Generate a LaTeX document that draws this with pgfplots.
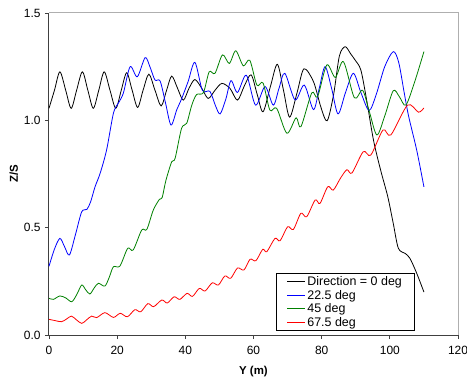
\documentclass[border=0pt]{standalone}
\usepackage{fontspec}
\setmainfont{Liberation Sans}
\usepackage{pgfplots}
\pgfplotsset{compat=1.18}
\definecolor{xlgreen}{RGB}{0,128,0}
\definecolor{xlblue}{RGB}{0,0,255}
\definecolor{framegray}{RGB}{175,175,175}
\begin{document}
\begin{tikzpicture}
\begin{axis}[
  scale only axis,
  width=409bp, height=322bp,
  xmin=0, xmax=120, ymin=0, ymax=1.5,
  axis lines*=left,
  axis line style={-, draw=black!75, line width=1bp},
  xtick={0,20,...,120},
  ytick={0,0.5,1,1.5},
  tick align=outside,
  major tick length=4bp,
  tick style={black!75, line width=0.8bp},
  /pgf/number format/assume math mode=true,
  yticklabel style={/pgf/number format/fixed, /pgf/number format/fixed zerofill, /pgf/number format/precision=1, font=\fontsize{12}{14}\selectfont, xshift=-1bp},
  xticklabel style={font=\fontsize{12}{14}\selectfont, yshift=-4bp},
  xlabel={\bfseries Y (m)},
  ylabel={\bfseries Z/S},
  xlabel style={font=\fontsize{11.5}{13}\selectfont, yshift=-4bp},
  ylabel style={font=\fontsize{11.5}{13}\selectfont, yshift=-1bp},
  legend cell align=left,
  legend style={at={(0.554,0.1916)}, anchor=north west, draw=black, line width=0.6bp,
    font=\fontsize{12.5}{14}\selectfont, row sep=0bp, inner xsep=11bp, inner ysep=1.5bp,
    nodes={inner sep=1.5bp}},
  clip=false,
]
\addlegendimage{draw=black, line width=1bp}
\addlegendentry{Direction = 0 deg}
\addlegendimage{draw=xlblue, line width=1bp}
\addlegendentry{22.5 deg}
\addlegendimage{draw=xlgreen, line width=1bp}
\addlegendentry{45 deg}
\addlegendimage{draw=red, line width=1bp}
\addlegendentry{67.5 deg}
\pgfplotsset{legend image code/.code={\draw[#1] (0bp,0bp) -- (18bp,0bp);}}
\addplot[black, line width=0.8bp, smooth, forget plot] coordinates {
(0,1.056) (1.6,1.14) (3.2,1.226) (4.9,1.14) (6.5,1.056) (8.1,1.14) (9.8,1.226)
(11.4,1.14) (13.0,1.056) (14.6,1.14) (16.2,1.226) (17.9,1.14) (19.6,1.056)
(21.2,1.14) (22.8,1.222) (24.4,1.14) (26.0,1.06) (27.6,1.14) (29.3,1.215)
(31.1,1.14) (32.9,1.067) (34.5,1.14) (36.0,1.206) (37.7,1.15) (39.4,1.094)
(41.1,1.15) (42.8,1.19) (44.8,1.15) (46.7,1.102) (48.7,1.14) (50.7,1.172)
(53.1,1.149) (55.3,1.094) (57.3,1.16) (59.3,1.212) (61.1,1.12) (62.8,1.04)
(65.0,1.16) (67.0,1.261) (68.8,1.14) (70.6,1.015) (72.8,1.13) (74.8,1.24)
(77.6,1.18) (79.8,1.06) (81.6,0.998) (83.5,1.12) (85.2,1.30) (86.9,1.343)
(88.5,1.31) (89.8,1.281) (91.5,1.234) (93.2,1.094) (95.2,0.908) (97.3,0.768)
(99.4,0.644) (101.0,0.52) (102.5,0.404) (104.5,0.38) (105.9,0.357) (107.9,0.287)
(110,0.20)};
\addplot[xlblue, line width=0.8bp, smooth, forget plot] coordinates {
(0,0.32) (1.6,0.40) (3.2,0.45) (4.6,0.41) (6.0,0.373) (7.8,0.47) (9.6,0.574)
(11.1,0.585) (12.2,0.62) (13.5,0.69) (15.0,0.753) (16.9,0.862) (18.9,1.033)
(20.3,1.079) (21.8,1.126) (23.8,1.25) (25.9,1.203) (28.2,1.292) (29.6,1.25)
(31.1,1.188) (32.6,1.183) (34.2,1.08) (35.8,0.978) (37.5,1.05) (38.9,1.10)
(40.8,1.18) (42.8,1.27) (45.0,1.14) (47.2,1.135) (48.8,1.07) (50.2,1.03)
(51.9,1.10) (53.4,1.185) (55.3,1.13) (57.9,1.21) (60.6,1.071) (63.4,1.157)
(65.8,1.071) (67.5,1.15) (69.2,1.219) (72.2,1.095) (74.9,1.164) (77.6,1.05)
(79.3,1.15) (81.0,1.25) (82.9,1.15) (84.8,1.03) (87.0,1.13) (89.3,1.219)
(91.5,1.13) (93.9,1.046) (96.0,1.12) (98.5,1.25) (101.0,1.32) (102.6,1.27)
(104.2,1.13) (105.5,1.02) (107.9,0.86) (110,0.69)};
\addplot[xlgreen, line width=0.8bp, smooth, forget plot] coordinates {
(0,0.171) (1.3,0.166) (3.2,0.182) (5.0,0.172) (6.7,0.155) (8.2,0.19) (9.6,0.233)
(10.8,0.21) (12.0,0.191) (13.3,0.22) (14.5,0.241) (16.4,0.228) (17.7,0.27)
(18.9,0.318) (20.8,0.321) (23.1,0.404) (24.7,0.396) (27.2,0.489) (28.7,0.492)
(30.6,0.582) (32.4,0.632) (33.2,0.64) (34.3,0.72) (36.0,0.807) (37.0,0.823)
(38.9,0.963) (40.4,0.986) (41.9,1.071) (43.3,1.12) (45.3,1.129) (47.0,1.226)
(48.7,1.219) (50.9,1.305) (52.9,1.265) (54.8,1.324) (57.0,1.254) (58.9,1.28)
(61.0,1.164) (62.8,1.174) (64.8,1.048) (66.8,1.056) (69.8,0.94) (72.5,1.012)
(73.9,0.97) (77.1,1.128) (78.8,1.11) (81.5,1.258) (84.0,1.2) (86.4,1.273)
(89.6,1.105) (92.0,1.14) (94.0,1.04) (96.2,0.932) (98.5,1.02) (101.0,1.138)
(102.8,1.11) (104.7,1.071) (107.3,1.18) (110,1.32)};
\addplot[red, line width=0.8bp, smooth, forget plot] coordinates {
(0,0.073) (1.8,0.067) (3.7,0.062) (5.2,0.075) (6.6,0.088) (8.1,0.07) (9.6,0.054)
(11.0,0.07) (12.5,0.088) (14.0,0.081) (16.4,0.104) (18.9,0.082) (20.9,0.101)
(23.0,0.085) (25.2,0.118) (26.9,0.108) (29.0,0.146) (30.7,0.132) (33.1,0.163)
(34.7,0.149) (36.7,0.178) (38.4,0.166) (40.5,0.194) (42.1,0.18) (44.1,0.217)
(45.8,0.205) (47.9,0.243) (49.7,0.233) (51.6,0.275) (53.3,0.264) (55.3,0.312)
(57.2,0.303) (59.0,0.353) (60.7,0.346) (62.7,0.399) (63.9,0.388) (66.3,0.45)
(67.8,0.439) (70.0,0.504) (71.7,0.492) (73.9,0.567) (75.6,0.551) (78.1,0.629)
(79.5,0.613) (81.8,0.691) (83.4,0.675) (85.5,0.73) (87.4,0.77) (88.9,0.755)
(92.2,0.854) (94.4,0.838) (98.0,0.955) (100.3,0.932) (105.2,1.071) (108.4,1.038)
(110,1.058)};
\coordinate (ll) at (rel axis cs:0,0);
\coordinate (ur) at (rel axis cs:1,1);
\end{axis}
\draw[framegray, line width=1bp] (ll |- ur) -- (ur) -- (ur |- ll);
\pgfresetboundingbox
\path[use as bounding box] ([xshift=-49bp,yshift=-48bp]ll) rectangle ([xshift=9bp,yshift=13bp]ur);
\end{tikzpicture}
\end{document}
